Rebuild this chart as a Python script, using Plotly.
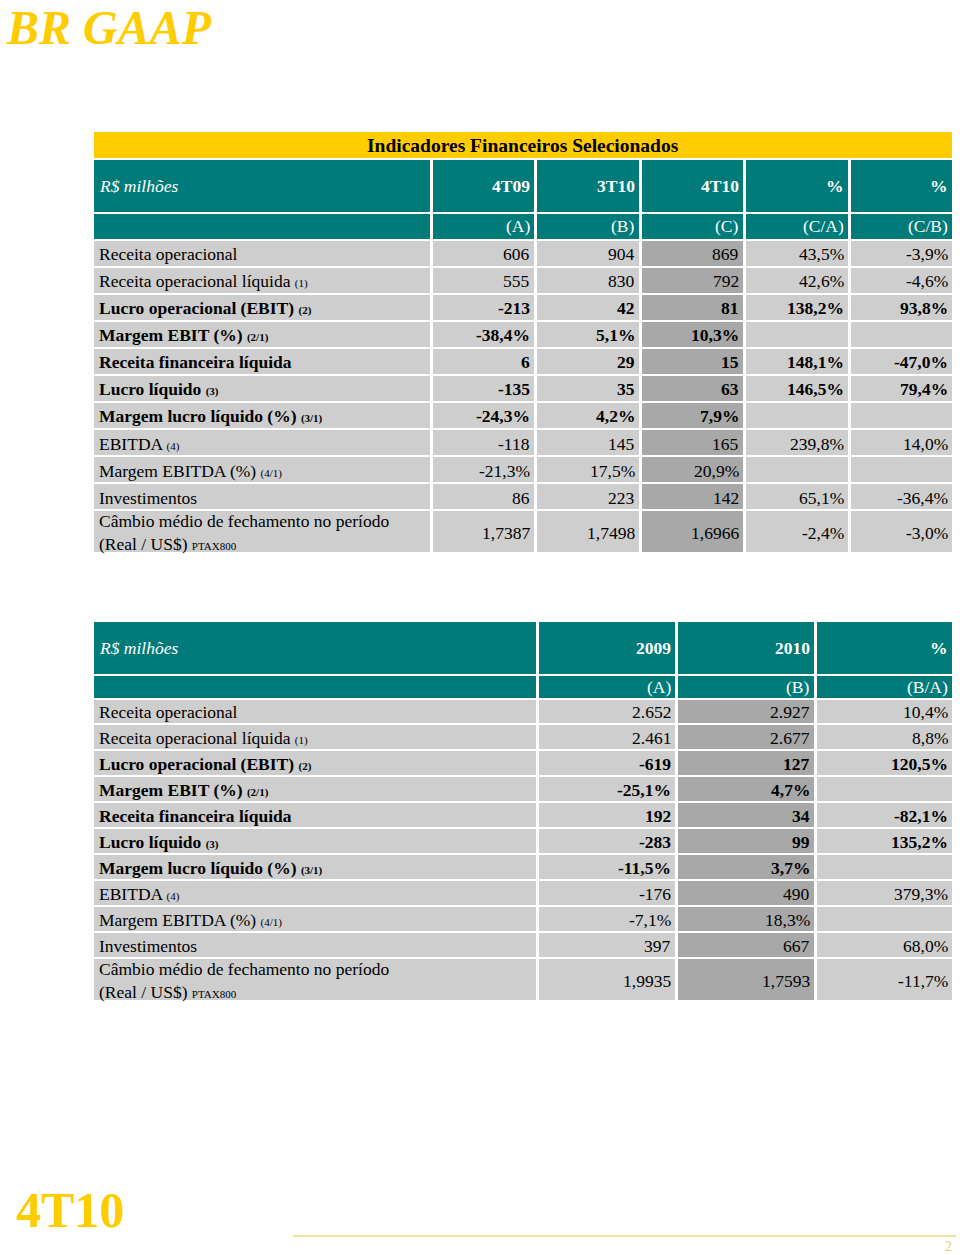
import plotly.graph_objects as go

# ---------------- data ----------------
row_labels = [
    "Receita operacional",
    "Receita operacional líquida",
    "Lucro operacional (EBIT)",
    "Margem EBIT (%)",
    "Receita financeira líquida",
    "Lucro líquido",
    "Margem lucro líquido (%)",
    "EBITDA",
    "Margem EBITDA (%)",
    "Investimentos",
    "Câmbio médio de fechamento no período<br>(Real / US$)",
]
row_notes = ["", "(1)", "(2)", "(2/1)", "", "(3)", "(3/1)", "(4)", "(4/1)", "", "PTAX800"]
row_kinds = ["int", "int", "int", "pct", "int", "int", "pct", "int", "pct", "int", "fx"]
bold_rows = [False, False, True, True, True, True, True, False, False, False, False]

# Quarterly table
q_headers = ["4T09", "3T10", "4T10", "%", "%"]
q_subheads = ["(A)", "(B)", "(C)", "(C/A)", "(C/B)"]
q_4T09 = [606, 555, -213, -38.4, 6, -135, -24.3, -118, -21.3, 86, 1.7387]
q_3T10 = [904, 830, 42, 5.1, 29, 35, 4.2, 145, 17.5, 223, 1.7498]
q_4T10 = [869, 792, 81, 10.3, 15, 63, 7.9, 165, 20.9, 142, 1.6966]
q_CA = [43.5, 42.6, 138.2, None, 148.1, 146.5, None, 239.8, None, 65.1, -2.4]
q_CB = [-3.9, -4.6, 93.8, None, -47.0, 79.4, None, 14.0, None, -36.4, -3.0]

# Annual table
y_headers = ["2009", "2010", "%"]
y_subheads = ["(A)", "(B)", "(B/A)"]
y_2009 = [2652, 2461, -619, -25.1, 192, -283, -11.5, -176, -7.1, 397, 1.9935]
y_2010 = [2927, 2677, 127, 4.7, 34, 99, 3.7, 490, 18.3, 667, 1.7593]
y_BA = [10.4, 8.8, 120.5, None, -82.1, 135.2, None, 379.3, None, 68.0, -11.7]

page_title = "BR GAAP"
table_title = "Indicadores Financeiros Selecionados"
unit_label = "R$ milhões"
footer_period = "4T10"
page_number = "2"

# ---------------- styles / layout ----------------
TEAL = "#007b79"
YELLOW = "#ffcc00"
LIGHT = "#cecece"
DARK = "#a8a8a8"
FONT = "Liberation Serif"
TXT = 17.5
NOTE = 11
PAD = 4

W, H = 960, 1255

# column / row edges (pixel layout)
T1_X = [93, 432, 536, 640.5, 745, 849.5, 953.5]
T1_TITLE_Y = [131, 159]
T1_Y = [159, 212.5, 239.5] + [239.5 + 27.07 * k for k in range(1, 11)] + [553]
T2_X = [93, 537.5, 676.5, 815.5, 953.5]
T2_Y = [621, 674.5, 698.5] + [698.5 + 25.95 * k for k in range(1, 11)] + [1001]

CS = [[0, TEAL], [1 / 3, LIGHT], [2 / 3, DARK], [1, YELLOW]]

fig = go.Figure()


def fmt(v, kind):
    if v is None:
        return ""
    if kind == "pct":
        s = f"{v:,.1f}%"
    elif kind == "fx":
        s = f"{v:.4f}"
    else:
        s = f"{v:,.0f}"
    return s.replace(",", "X").replace(".", ",").replace("X", ".")


def add_grid(xe, ye, z):
    fig.add_trace(go.Heatmap(x=xe, y=ye, z=z, colorscale=CS, zmin=0, zmax=3,
                             showscale=False, xgap=3, ygap=2, hoverinfo="skip"))


def text(x, y, s, anchor, size=TXT, color="black", pad=1):
    fig.add_annotation(x=x, y=y, xref="x", yref="y", text=s, showarrow=False,
                       xanchor=anchor, yanchor="middle", align=anchor,
                       borderpad=pad, borderwidth=0 if pad == 0 else 1,
                       font=dict(family=FONT, size=size, color=color))


def build_table(xe, ye, headers, subheads, columns, kinds_override, dark_col):
    ncols = len(xe) - 1
    nrows = len(ye) - 1
    z = [[0] * ncols, [0] * ncols]
    for _ in range(nrows - 2):
        z.append([2 if j == dark_col + 1 else 1 for j in range(ncols)])
    add_grid(xe, ye, z)

    def cy(i):
        return (ye[i] + ye[i + 1]) / 2

    text(xe[0] + PAD, cy(0), f"<i>{unit_label}</i>", "left", color="white")
    for j, h in enumerate(headers):
        text(xe[j + 2] - PAD, cy(0), f"<b>{h}</b>", "right", color="white")
    for j, h in enumerate(subheads):
        text(xe[j + 2] - PAD, cy(1), h, "right", color="white")

    for r, lab in enumerate(row_labels):
        s = lab
        if row_notes[r]:
            s += f' <span style="font-size:{NOTE}px">{row_notes[r]}</span>'
        if bold_rows[r]:
            s = f"<b>{s}</b>"
        text(xe[0] + PAD, cy(r + 2) + 1, s, "left")
        for j, col in enumerate(columns):
            kind = kinds_override[j] or row_kinds[r]
            v = fmt(col[r], kind)
            if not v:
                continue
            if bold_rows[r]:
                v = f"<b>{v}</b>"
            text(xe[j + 2] - PAD, cy(r + 2) + 1, v, "right")


# title bar of first table
add_grid([T1_X[0], T1_X[-1]], T1_TITLE_Y, [[3]])
text((T1_X[0] + T1_X[-1]) / 2, sum(T1_TITLE_Y) / 2, f"<b>{table_title}</b>", "center", size=19.5)

build_table(T1_X, T1_Y, q_headers, q_subheads,
            [q_4T09, q_3T10, q_4T10, q_CA, q_CB],
            [None, None, None, "pct", "pct"], dark_col=2)

build_table(T2_X, T2_Y, y_headers, y_subheads,
            [y_2009, y_2010, y_BA],
            [None, None, "pct"], dark_col=1)

# page decorations
text(6, 27, f"<b><i>{page_title}</i></b>", "left", size=48, color=YELLOW, pad=0)
text(14, 1210, f"<b>{footer_period}</b>", "left", size=50, color=YELLOW)
text(954, 1246, page_number, "right", size=14, color="#e6cf5c")
fig.add_shape(type="line", xref="x", yref="y", x0=293, x1=956, y0=1236, y1=1236,
              line=dict(color="#ecd77e", width=1.5))

fig.update_layout(
    width=W, height=H,
    margin=dict(l=0, r=0, t=0, b=0, pad=0),
    paper_bgcolor="white", plot_bgcolor="white",
    xaxis=dict(range=[0, W], visible=False, fixedrange=True),
    yaxis=dict(range=[H, 0], visible=False, fixedrange=True),
    showlegend=False,
)

fig.write_html("out.html", config={"displayModeBar": False},
               post_script="document.body.style.margin='0';document.body.style.overflow='hidden';")
